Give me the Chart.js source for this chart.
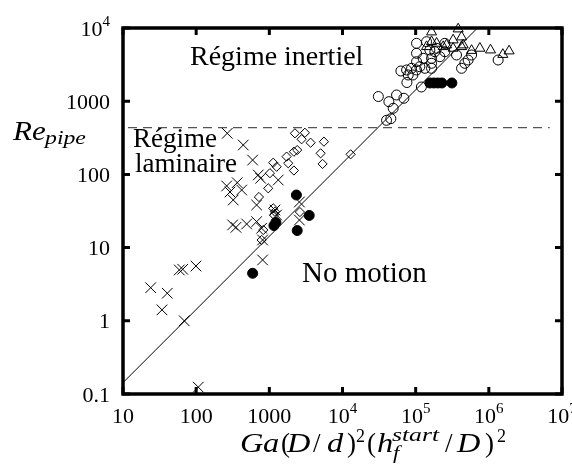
<!DOCTYPE html>
<html><head><meta charset="utf-8">
<script src="https://cdn.jsdelivr.net/npm/chart.js@4.4.1/dist/chart.umd.min.js"></script>
<style>html,body{margin:0;padding:0;background:#fff;} #wrap{width:572px;height:464px;}</style>
</head><body><div id="wrap"><canvas id="c" width="572" height="464"></canvas></div>
<script>
// ---- data ----
const crossX = [23.9, 40.3, 34.1, 58.8, 65.5, 99.3, 68.7, 107, 266, 440, 591, 261, 364, 419, 321, 705, 760, 1324, 670, 315, 350, 490, 670, 785, 1194, 1259, 809, 809, 2576, 2576, 290];
const crossY = [2.83, 2.38, 1.41, 4.95, 5.06, 5.6, 1.0, 0.124, 364, 252, 157, 69.5, 77.1, 61.2, 44.7, 98.2, 88.5, 83.8, 38.2, 20.4, 18.9, 21.0, 22.6, 18.4, 32.6, 27.9, 12.7, 6.78, 42.0, 23.8, 57.5];

const diamondX = [2239, 3062, 2761, 3664, 5572, 2168, 2404, 1722, 5023, 5346, 2168, 1811, 1130, 1259, 1019, 966, 721, 1130, 1194, 1156, 826, 785, 2618, 12910];
const diamondY = [364, 371, 302, 271, 280, 204, 215, 175, 194, 139, 113, 142, 144.5, 127, 104, 64.6, 49.1, 34.4, 30.9, 27.9, 17.4, 12.7, 30.6, 188];

const filledX = [591, 1156, 1230, 2344, 3508, 2404, 156300, 177400, 201000, 228000, 312600];
const filledY = [4.46, 20.0, 22.0, 52.3, 27.5, 17.1, 1774, 1774, 1774, 1774, 1774];

const circleX = [30900, 43050, 54800, 69000, 49300, 40000, 45800, 119700, 75900, 75200, 87900, 102800, 114000, 133600, 164800, 79100, 102800, 126500, 164800, 102800, 156300, 193200, 250600, 102800, 140900, 183000, 164800, 424000, 470000, 521000, 362000, 581000, 1340000, 214000, 250600, 62800, 91600];
const circleY = [1159, 985, 1216, 1096, 800, 548, 577, 1564, 1800, 2670, 2815, 2670, 2960, 2815, 2815, 2280, 3465, 3856, 3856, 4510, 5004, 5280, 6180, 6180, 6500, 4745, 3294, 2815, 3294, 3654, 4277, 4277, 3654, 4055, 4745, 2586, 2280];

const triangleX = [164800, 381000, 424000, 325000, 164800, 193200, 264000, 424000, 581000, 754000, 1054000, 1553000, 1892000, 140900, 237700, 325000, 446000];
const triangleY = [8817, 9690, 7536, 6855, 6500, 6180, 5860, 5555, 4930, 5280, 5004, 4345, 4850, 5555, 5555, 5280, 5860];

const lineX = [10, 700000];
const lineY = [0.1429, 10000];
const dashX = [11.7, 6.8e6];
const dashY = [435, 435];

const xTickValues = [10, 100, 1000, 1e4, 1e5, 1e6, 1e7];
const xTickLabels = [['10',''], ['100',''], ['1000',''], ['10','4'], ['10','5'], ['10','6'], ['10','7']];
const yTickValues = [0.1, 1, 10, 100, 1000, 1e4];
const yTickLabels = [['0.1',''], ['1',''], ['10',''], ['100',''], ['1000',''], ['10','4']];

// ---- helpers ----
const pts = (xs, ys) => xs.map((v, i) => ({x: v, y: ys[i]}));
const SERIF = '"Liberation Serif", "Times New Roman", serif';

function drawPow(ctx, base, exp, x, baseline, align) {
  ctx.font = '22px ' + SERIF;
  const wb = ctx.measureText(base).width;
  ctx.font = '15px ' + SERIF;
  const we = exp ? ctx.measureText(exp).width : 0;
  const w = wb + we;
  let sx = x;
  if (align === 'center') sx = x - w / 2;
  else if (align === 'right') sx = x - w;
  ctx.textAlign = 'left';
  ctx.textBaseline = 'alphabetic';
  ctx.font = '22px ' + SERIF;
  ctx.fillText(base, sx, baseline);
  if (exp) {
    ctx.font = '15px ' + SERIF;
    ctx.fillText(exp, sx + wb, baseline - 10);
  }
}

function txt(ctx, s, x, y, font, stretch) {
  ctx.save();
  ctx.font = font;
  ctx.textAlign = 'left';
  ctx.textBaseline = 'alphabetic';
  ctx.translate(x, y);
  ctx.scale(stretch || 1, 1);
  ctx.fillText(s, 0, 0);
  ctx.restore();
}

const decor = {
  id: 'decor',
  afterDatasetsDraw(chart) {
    const {ctx, chartArea: a, scales: {x, y}} = chart;
    ctx.save();
    ctx.fillStyle = '#000';
    ctx.strokeStyle = '#000';
    // frame
    ctx.lineWidth = 3.5;
    ctx.strokeRect(a.left, a.top, a.right - a.left, a.bottom - a.top);
    // inward ticks on all sides
    ctx.lineWidth = 3;
    ctx.beginPath();
    xTickValues.forEach(v => {
      const px = x.getPixelForValue(v);
      ctx.moveTo(px, a.bottom); ctx.lineTo(px, a.bottom - 7);
      ctx.moveTo(px, a.top); ctx.lineTo(px, a.top + 7);
    });
    yTickValues.forEach(v => {
      const py = y.getPixelForValue(v);
      ctx.moveTo(a.left, py); ctx.lineTo(a.left + 7, py);
      ctx.moveTo(a.right, py); ctx.lineTo(a.right - 7, py);
    });
    ctx.stroke();
    // tick labels
    xTickValues.forEach((v, i) => {
      drawPow(ctx, xTickLabels[i][0], xTickLabels[i][1], x.getPixelForValue(v), a.bottom + 29, 'center');
    });
    yTickValues.forEach((v, i) => {
      drawPow(ctx, yTickLabels[i][0], yTickLabels[i][1], a.left - 13, y.getPixelForValue(v) + 7.5, 'right');
    });
    // annotations
    txt(ctx, 'Régime inertiel', 190, 65, '28px ' + SERIF);
    txt(ctx, 'Régime', 133, 147, '27px ' + SERIF);
    txt(ctx, 'laminaire', 135, 172, '27px ' + SERIF);
    txt(ctx, 'No motion', 302, 282, '29px ' + SERIF);
    // y-axis title  Re_pipe
    txt(ctx, 'Re', 13, 140, 'italic 27px ' + SERIF, 1.15);
    txt(ctx, 'pipe', 45, 144, 'italic 19px ' + SERIF, 1.25);
    // x-axis title  Ga(D/d)^2(h_f^start/D)^2
    const it = 'italic 27px ' + SERIF, up = '27px ' + SERIF, sm = '18px ' + SERIF, smi = 'italic 19px ' + SERIF;
    const B = 452, S = 1.2;
    txt(ctx, 'G', 240, B, it, S);
    txt(ctx, 'a', 263, B, it, S);
    txt(ctx, '(', 281, B, up);
    txt(ctx, 'D', 287, B, it, S);
    txt(ctx, '/', 313, B, up);
    txt(ctx, 'd', 327, B, it, S);
    txt(ctx, ')', 347, B, up);
    txt(ctx, '2', 356, 442, sm);
    txt(ctx, '(', 367, B, up);
    txt(ctx, 'h', 377, B, it, S);
    txt(ctx, 'start', 392, 441, smi, 1.35);
    txt(ctx, 'f', 393, 459, smi, S);
    txt(ctx, '/', 445, B, up);
    txt(ctx, 'D', 457, B, it, S);
    txt(ctx, ')', 485, B, up);
    txt(ctx, '2', 497, 442, sm);
    ctx.restore();
  }
};

const common = {borderColor: '#000', borderWidth: 1, clip: false, showLine: false};

new Chart(document.getElementById('c'), {
  type: 'scatter',
  data: {
    datasets: [
      {...common, label: 'cross', data: pts(crossX, crossY), pointStyle: 'crossRot', pointRadius: 7.5, backgroundColor: 'rgba(0,0,0,0)'},
      {...common, label: 'diamond', data: pts(diamondX, diamondY), pointStyle: 'rectRot', pointRadius: 4.6, backgroundColor: 'rgba(0,0,0,0)'},
      {...common, label: 'filled', data: pts(filledX, filledY), pointStyle: 'circle', pointRadius: 5, backgroundColor: '#000'},
      {...common, label: 'circle', data: pts(circleX, circleY), pointStyle: 'circle', pointRadius: 5, backgroundColor: 'rgba(0,0,0,0)'},
      {...common, label: 'triangle', data: pts(triangleX, triangleY), pointStyle: 'triangle', pointRadius: 5.8, backgroundColor: 'rgba(0,0,0,0)'},
      {type: 'line', label: 'fit', data: pts(lineX, lineY), borderColor: '#000', borderWidth: 1, pointRadius: 0, fill: false, clip: false},
      {type: 'line', label: 'limit', data: pts(dashX, dashY), borderColor: '#555', borderWidth: 1.3, borderDash: [9, 6], pointRadius: 0, fill: false, clip: false}
    ]
  },
  options: {
    responsive: false,
    animation: false,
    events: [],
    layout: {padding: {left: 123, right: 10, top: 28, bottom: 70}},
    plugins: {legend: {display: false}, tooltip: {enabled: false}},
    scales: {
      x: {type: 'logarithmic', min: 10, max: 1e7, display: false},
      y: {type: 'logarithmic', min: 0.1, max: 1e4, display: false}
    }
  },
  plugins: [decor]
});
</script>
</body></html>
